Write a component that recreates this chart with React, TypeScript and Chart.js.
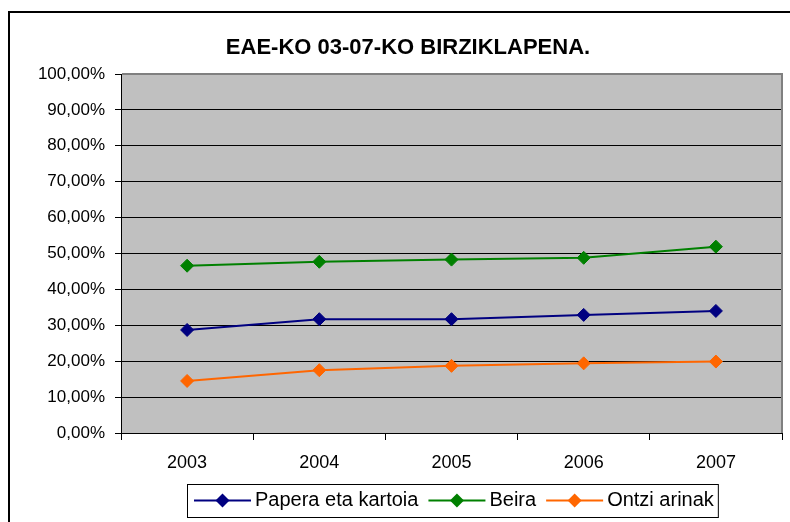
import React, { useEffect, useRef } from "react";
import { Chart, registerables } from "chart.js";

Chart.register(...registerables);

const TITLE = "EAE-KO 03-07-KO BIRZIKLAPENA.";
const YEARS = ["2003", "2004", "2005", "2006", "2007"];
const PAPERA = [28.7, 31.7, 31.7, 32.9, 34.0];
const BEIRA = [46.6, 47.7, 48.3, 48.8, 51.9];
const ONTZI = [14.5, 17.5, 18.7, 19.4, 19.9];
const SERIES_NAMES = ["Papera eta kartoia", "Beira", "Ontzi arinak"];
const SERIES_COLORS = ["#000080", "#008000", "#FF6600"];

const FONT = "Arial, 'Liberation Sans', sans-serif";

function drawDiamond(ctx: CanvasRenderingContext2D, x: number, y: number, r: number, color: string) {
  ctx.beginPath();
  ctx.moveTo(x, y - r);
  ctx.lineTo(x + r, y);
  ctx.lineTo(x, y + r);
  ctx.lineTo(x - r, y);
  ctx.closePath();
  ctx.fillStyle = color;
  ctx.fill();
}

const decorPlugin = {
  id: "decor",
  beforeDraw(chart: any) {
    const { ctx, chartArea, width, height } = chart;
    ctx.save();
    ctx.fillStyle = "#ffffff";
    ctx.fillRect(0, 0, width, height);
    ctx.strokeStyle = "#000000";
    ctx.lineWidth = 2;
    ctx.strokeRect(9, 12, width + 20, height + 20);
    ctx.fillStyle = "#C0C0C0";
    ctx.fillRect(chartArea.left, chartArea.top, chartArea.right - chartArea.left, chartArea.bottom - chartArea.top);
    ctx.restore();
  },
  beforeDatasetsDraw(chart: any) {
    const { ctx, chartArea } = chart;
    ctx.save();
    ctx.strokeStyle = "#808080";
    ctx.lineWidth = 2;
    ctx.beginPath();
    ctx.moveTo(chartArea.left + 1, chartArea.top);
    ctx.lineTo(chartArea.right, chartArea.top);
    ctx.lineTo(chartArea.right, chartArea.bottom);
    ctx.stroke();
    ctx.restore();
  },
  afterDraw(chart: any) {
    const { ctx } = chart;
    ctx.save();
    // title
    ctx.font = `bold 22px ${FONT}`;
    ctx.fillStyle = "#000000";
    ctx.textAlign = "center";
    ctx.textBaseline = "middle";
    ctx.fillText(TITLE, 408, 48);

    // legend
    ctx.font = `20px ${FONT}`;
    ctx.textAlign = "left";
    const boxLeft = 187;
    const boxTop = 484;
    const boxH = 33;
    const midY = boxTop + boxH / 2;
    let x = boxLeft + 7;
    const lineLen = 57;
    const gap = 10;
    const items: { x: number; name: string; color: string }[] = [];
    SERIES_NAMES.forEach((name, i) => {
      items.push({ x, name, color: SERIES_COLORS[i] });
      x += lineLen + 4 + ctx.measureText(name).width + gap;
    });
    const boxRight = x - gap + 4;
    ctx.fillStyle = "#ffffff";
    ctx.fillRect(boxLeft, boxTop, boxRight - boxLeft, boxH);
    ctx.strokeStyle = "#000000";
    ctx.lineWidth = 1;
    ctx.strokeRect(boxLeft + 0.5, boxTop + 0.5, boxRight - boxLeft, boxH);
    items.forEach((it) => {
      ctx.strokeStyle = it.color;
      ctx.lineWidth = 2;
      ctx.beginPath();
      ctx.moveTo(it.x, midY);
      ctx.lineTo(it.x + lineLen, midY);
      ctx.stroke();
      drawDiamond(ctx, it.x + lineLen / 2, midY, 7, it.color);
      ctx.fillStyle = "#000000";
      ctx.fillText(it.name, it.x + lineLen + 4, midY);
    });
    ctx.restore();
  },
};

export default function App() {
  const ref = useRef<HTMLCanvasElement>(null);
  useEffect(() => {
    if (!ref.current) return;
    const mk = (label: string, data: number[], color: string) => ({
      label,
      data,
      borderColor: color,
      backgroundColor: color,
      borderWidth: 2,
      pointStyle: "rectRot" as const,
      pointRadius: 6.5,
      pointBorderWidth: 1,
      pointBackgroundColor: color,
      pointBorderColor: color,
      tension: 0,
    });
    const chart = new Chart(ref.current, {
      type: "line",
      data: {
        labels: YEARS,
        datasets: [
          mk(SERIES_NAMES[0], PAPERA, SERIES_COLORS[0]),
          mk(SERIES_NAMES[1], BEIRA, SERIES_COLORS[1]),
          mk(SERIES_NAMES[2], ONTZI, SERIES_COLORS[2]),
        ],
      },
      options: {
        responsive: false,
        animation: false,
        devicePixelRatio: 1,
        layout: { padding: { left: 0, top: 74, right: 8, bottom: 0 } },
        plugins: {
          legend: { display: false },
          title: { display: false },
          tooltip: { enabled: false },
        },
        scales: {
          x: {
            offset: true,
            grid: {
              offset: true,
              drawOnChartArea: false,
              drawTicks: true,
              tickLength: 7,
              color: "#000000",
            },
            border: { color: "#000000", width: 1 },
            ticks: {
              color: "#000000",
              font: { family: FONT, size: 18 },
              padding: 12,
              maxRotation: 0,
            },
            afterFit: (s: any) => {
              s.height = 89;
            },
          },
          y: {
            min: 0,
            max: 100,
            grid: {
              color: "#000000",
              lineWidth: 1,
              drawTicks: true,
              tickLength: 6,
            },
            border: { color: "#000000", width: 1 },
            ticks: {
              stepSize: 10,
              color: "#000000",
              font: { family: FONT, size: 17 },
              padding: 10,
              callback: (v: any) => Number(v).toFixed(2).replace(".", ",") + "%",
            },
            afterFit: (s: any) => {
              s.width = 121;
            },
          },
        },
      },
      plugins: [decorPlugin],
    });
    return () => chart.destroy();
  }, []);
  return (
    <div style={{ position: "absolute", left: 0, top: 0, width: 790, height: 522 }}>
      <canvas ref={ref} width={790} height={522} style={{ display: "block", width: 790, height: 522 }} />
    </div>
  );
}
